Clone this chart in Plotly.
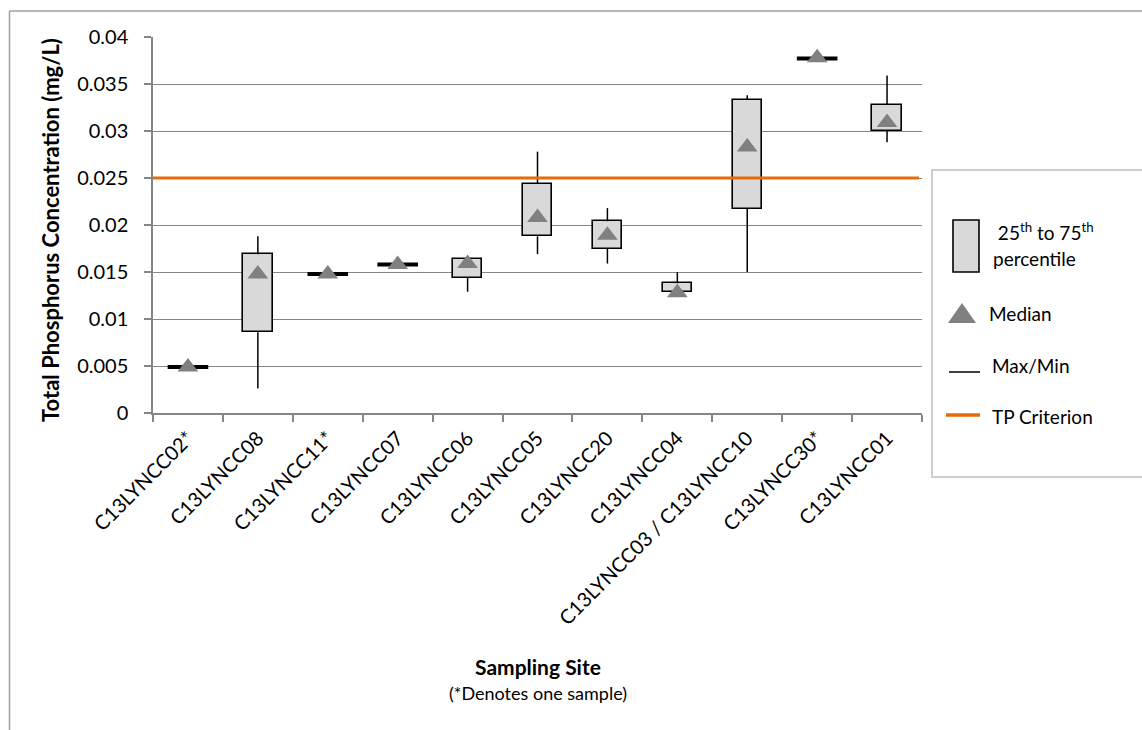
import plotly.graph_objects as go

# Total phosphorus summary per sampling site (mg/L)
sites = ["C13LYNCC02*", "C13LYNCC08", "C13LYNCC11*", "C13LYNCC07", "C13LYNCC06",
         "C13LYNCC05", "C13LYNCC20", "C13LYNCC04", "C13LYNCC03 / C13LYNCC10",
         "C13LYNCC30*", "C13LYNCC01"]
tp_min = [0.0049, 0.0026, 0.0148, 0.0158, 0.0129, 0.0169, 0.0159, 0.0129, 0.0150, 0.0377, 0.0288]
tp_q1 = [0.0049, 0.0086, 0.0148, 0.0158, 0.0144, 0.0188, 0.0175, 0.0129, 0.0217, 0.0377, 0.0300]
tp_median = [0.0049, 0.0148, 0.0148, 0.0158, 0.0159, 0.0208, 0.0189, 0.0128, 0.0283, 0.0378, 0.0309]
tp_q3 = [0.0049, 0.0169, 0.0148, 0.0158, 0.0164, 0.0244, 0.0204, 0.0138, 0.0333, 0.0377, 0.0328]
tp_max = [0.0049, 0.0188, 0.0148, 0.0158, 0.0167, 0.0278, 0.0218, 0.0150, 0.0338, 0.0377, 0.0359]
tp_criterion = 0.025

y_ticks = [0, 0.005, 0.01, 0.015, 0.02, 0.025, 0.03, 0.035, 0.04]
y_tick_text = ["0", "0.005", "0.01", "0.015", "0.02", "0.025", "0.03", "0.035", "0.04"]

FONT = "Lato"
W, H = 1142, 730
L, R, T, B = 153, 922, 37, 413  # plot area in pixels


def px(x):
    return (x - L) / (R - L)


def py(y):
    return (B - y) / (B - T)


GRAY = "#868686"
fig = go.Figure()

# interquartile boxes (sites with several samples)
multi = [i for i in range(len(sites)) if tp_q3[i] > tp_q1[i]]
fig.add_trace(go.Bar(
    x=[sites[i] for i in multi],
    y=[tp_q3[i] - tp_q1[i] for i in multi],
    base=[tp_q1[i] for i in multi],
    width=0.42,
    marker=dict(color="#d9d9d9", line=dict(color="black", width=1.6)),
    showlegend=False, hoverinfo="skip",
))

# whiskers from box edges to max / min
wx, wy = [], []
for i in multi:
    if tp_max[i] > tp_q3[i]:
        wx += [sites[i], sites[i], None]
        wy += [tp_q3[i], tp_max[i], None]
    if tp_min[i] < tp_q1[i]:
        wx += [sites[i], sites[i], None]
        wy += [tp_q1[i], tp_min[i], None]
fig.add_trace(go.Scatter(x=wx, y=wy, mode="lines", line=dict(color="black", width=1.5),
                         showlegend=False, hoverinfo="skip"))

# single-sample sites drawn as a flat bar
single = [i for i in range(len(sites)) if tp_q3[i] == tp_q1[i]]
fig.add_trace(go.Scatter(
    x=[sites[i] for i in single], y=[tp_q1[i] for i in single], mode="markers",
    marker=dict(symbol="line-ew", size=29, line=dict(color="black", width=4)),
    showlegend=False, hoverinfo="skip",
))

# medians
fig.add_trace(go.Scatter(
    x=sites, y=tp_median, mode="markers",
    marker=dict(symbol="triangle-up", size=18, color="#808080", line=dict(width=0)),
    showlegend=False,
))

# TP criterion line
fig.add_shape(type="line", xref="paper", yref="y", x0=0, x1=px(919),
              y0=tp_criterion, y1=tp_criterion, line=dict(color="#E46C0A", width=3))

fig.update_layout(
    width=W, height=H,
    margin=dict(l=L, r=W - R, t=T, b=H - B),
    paper_bgcolor="white", plot_bgcolor="white",
    font=dict(family=FONT, size=20, color="black"),
    bargap=0,
    xaxis=dict(
        type="category", categoryorder="array", categoryarray=sites,
        range=[-0.5, len(sites) - 0.5],
        showline=True, linecolor=GRAY, linewidth=1.5,
        ticks="outside", tickson="boundaries", ticklen=7, tickcolor=GRAY, tickwidth=1.5,
        tickangle=-45, tickfont=dict(family=FONT, size=20), ticklabelstandoff=4,
        showgrid=False, fixedrange=True,
    ),
    yaxis=dict(
        range=[0, 0.04], tickvals=y_ticks, ticktext=y_tick_text,
        showline=True, linecolor=GRAY, linewidth=1.5,
        ticks="outside", ticklen=7, tickcolor=GRAY, tickwidth=1.5,
        showgrid=True, gridcolor=GRAY, gridwidth=1.3,
        zeroline=False, tickfont=dict(family=FONT, size=20), ticklabelstandoff=12,
    ),
)

# outer chart border (left and top edges)
fig.add_shape(type="line", xref="paper", yref="paper", x0=px(9.5), x1=px(9.5),
              y0=py(11), y1=py(735), line=dict(color="#a0a0a0", width=1.5))
fig.add_shape(type="line", xref="paper", yref="paper", x0=px(9.5), x1=px(1150),
              y0=py(11), y1=py(11), line=dict(color="#a0a0a0", width=1.5))

# axis titles
fig.add_annotation(text="<b>Total Phosphorus Concentration (mg/L)</b>", xref="paper", yref="paper",
                   x=px(50), y=py(230), xanchor="center", yanchor="middle",
                   textangle=-90, showarrow=False, font=dict(family=FONT, size=22))
fig.add_annotation(text="<b>Sampling Site</b>", xref="paper", yref="paper",
                   x=px(538), y=py(666), xanchor="center", yanchor="middle",
                   showarrow=False, font=dict(family=FONT, size=21))
fig.add_annotation(text="(*Denotes one sample)", xref="paper", yref="paper",
                   x=px(538), y=py(693), xanchor="center", yanchor="middle",
                   showarrow=False, font=dict(family=FONT, size=18))

# legend panel
fig.add_shape(type="rect", xref="paper", yref="paper", x0=px(932), x1=px(1160),
              y0=py(477), y1=py(170), line=dict(color="#bfbfbf", width=1.5), fillcolor="white")
fig.add_shape(type="rect", xref="paper", yref="paper", x0=px(953), x1=px(979),
              y0=py(272), y1=py(220), line=dict(color="black", width=1.6), fillcolor="#d9d9d9")
fig.add_shape(type="path", xref="paper", yref="paper",
              path=f"M {px(948)},{py(323)} L {px(976)},{py(323)} L {px(962)},{py(303)} Z",
              line=dict(width=0), fillcolor="#808080")
fig.add_shape(type="line", xref="paper", yref="paper", x0=px(949), x1=px(980),
              y0=py(372), y1=py(372), line=dict(color="black", width=1.5))
fig.add_shape(type="line", xref="paper", yref="paper", x0=px(946), x1=px(980),
              y0=py(415), y1=py(415), line=dict(color="#E46C0A", width=3.5))

legend_items = [
    (" 25<sup>th</sup> to 75<sup>th</sup>", 991, 232),
    ("percentile", 991, 258),
    ("Median", 987, 313),
    ("Max/Min", 990, 365),
    ("TP Criterion", 990, 416),
]
for txt, lx, ly in legend_items:
    fig.add_annotation(text=txt, xref="paper", yref="paper", x=px(lx), y=py(ly),
                       xanchor="left", yanchor="middle", showarrow=False,
                       font=dict(family=FONT, size=19))

fig.write_html("out.html")
